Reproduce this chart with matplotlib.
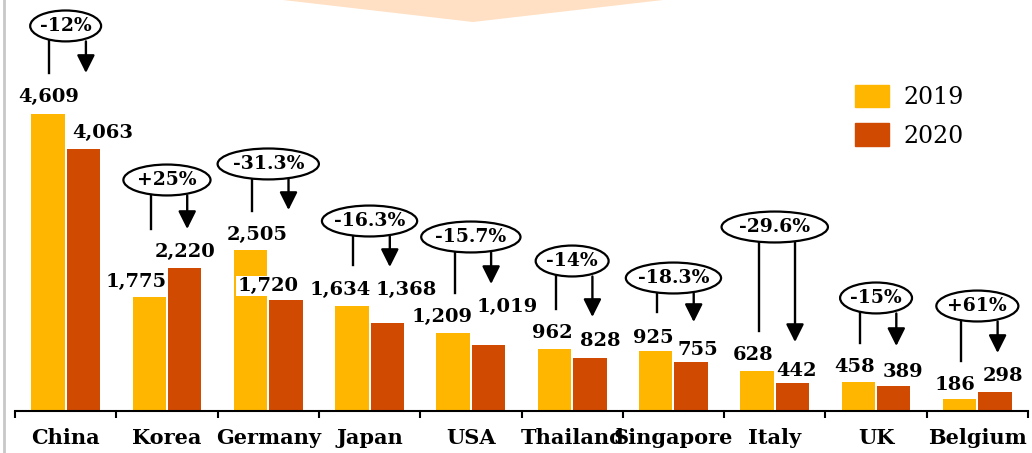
import matplotlib.pyplot as plt
from matplotlib.patches import Ellipse, Patch, Polygon
from matplotlib.lines import Line2D

# data
countries = ["China", "Korea", "Germany", "Japan", "USA",
             "Thailand", "Singapore", "Italy", "UK", "Belgium"]
v2019 = [4609, 1775, 2505, 1634, 1209, 962, 925, 628, 458, 186]
v2020 = [4063, 2220, 1720, 1368, 1019, 828, 755, 442, 389, 298]
changes = ["-12%", "+25%", "-31.3%", "-16.3%", "-15.7%",
           "-14%", "-18.3%", "-29.6%", "-15%", "+61%"]

# layout of the change callouts (value units / category units)
ell_y = [5979, 3587, 3836, 2950, 2702, 2329, 2065, 2857, 1755, 1630]
ell_w = [0.70, 0.86, 1.00, 0.94, 0.98, 0.72, 0.94, 1.05, 0.71, 0.81]
ell_h = 480
line_end = [5249, 2826, 3106, 2267, 1832, 1584, 1537, 1242, 1056, 776]
arrow_end = [5249, 2826, 3121, 2236, 1972, 1460, 1382, 1071, 1009, 901]

# layout of the value labels
lab19_dx = [-0.165, -0.30, -0.11, -0.29, -0.285, -0.20, -0.20, -0.215, -0.21, -0.22]
lab19_y = [4876, 2003, 2733, 1879, 1460, 1211, 1134, 870, 683, 404]
lab20_dx = [0.37, 0.18, 0.0, 0.36, 0.36, 0.275, 0.24, 0.21, 0.265, 0.25]
lab20_y = [4317, 2469, 1941, 1879, 1615, 1087, 947, 621, 606, 544]

C19 = "#FFB600"
C20 = "#D04A02"
SERIF = "DejaVu Serif"

fig = plt.figure(figsize=(10.32, 4.53), dpi=100)
ax = fig.add_axes([15 / 1032, 42 / 453, 1013 / 1032, 411 / 453])

# decorative chevron and left rule
fig.patches.append(Polygon([(283 / 1032, 1.0), (473 / 1032, 1 - 22 / 453), (663 / 1032, 1.0)],
                           closed=True, transform=fig.transFigure,
                           facecolor="#FFE0C4", edgecolor="none", zorder=0))
fig.lines.append(Line2D([4 / 1032, 4 / 1032], [0, 1], transform=fig.transFigure,
                        color="#C8C8C8", lw=2))

x = list(range(len(countries)))
w = 0.33
ax.bar([i - 0.175 for i in x], v2019, width=w, color=C19, zorder=2)
ax.bar([i + 0.175 for i in x], v2020, width=w, color=C20, zorder=2)

for i in x:
    # value labels
    ax.text(i + lab19_dx[i], lab19_y[i], f"{v2019[i]:,}", ha="center", va="center",
            fontsize=14, fontweight="bold", family=SERIF, zorder=5)
    kw = {}
    if countries[i] == "Germany":
        kw["bbox"] = dict(facecolor="white", edgecolor="none", pad=1)
    ax.text(i + lab20_dx[i], lab20_y[i], f"{v2020[i]:,}", ha="center", va="center",
            fontsize=14, fontweight="bold", family=SERIF, zorder=5, **kw)

    # change callout
    ax.add_patch(Ellipse((i, ell_y[i]), ell_w[i], ell_h, facecolor="white",
                         edgecolor="black", lw=1.6, zorder=4))
    ax.text(i, ell_y[i], changes[i], ha="center", va="center", fontsize=13.5,
            fontweight="bold", family=SERIF, zorder=5)
    top = ell_y[i] - ell_h / 2
    ax.plot([i - 0.16, i - 0.16], [top, line_end[i]], color="black", lw=1.7, zorder=3)
    ax.annotate("", xy=(i + 0.2, arrow_end[i]), xytext=(i + 0.2, top),
                arrowprops=dict(arrowstyle="-|>,head_width=0.45,head_length=0.9",
                                mutation_scale=12, color="black", lw=1.7,
                                shrinkA=0, shrinkB=0), zorder=3)

ax.set_xlim(-0.5, 9.5)
ax.set_ylim(0, 6382)
for s in ["top", "right", "left"]:
    ax.spines[s].set_visible(False)
ax.spines["bottom"].set_linewidth(1.5)
ax.set_yticks([])
ax.set_xticks(x)
ax.set_xticklabels(countries, fontsize=15, fontweight="bold", family=SERIF)
ax.tick_params(axis="x", which="major", length=0, pad=12)
ax.set_xticks([i - 0.5 for i in range(len(countries) + 1)], minor=True)
ax.tick_params(axis="x", which="minor", length=5, width=1.5, direction="out")

handles = [Patch(color=C19), Patch(color=C20)]
ax.legend(handles, ["2019", "2020"], loc="upper left",
          bbox_to_anchor=(843 / 1032, 1 - 73 / 453), bbox_transform=fig.transFigure,
          frameon=False, borderpad=0, handlelength=1.45, handleheight=1.1,
          labelspacing=0.6, handletextpad=0.6,
          prop=dict(family=SERIF, size=17))

fig.savefig("out.png", dpi=100)
